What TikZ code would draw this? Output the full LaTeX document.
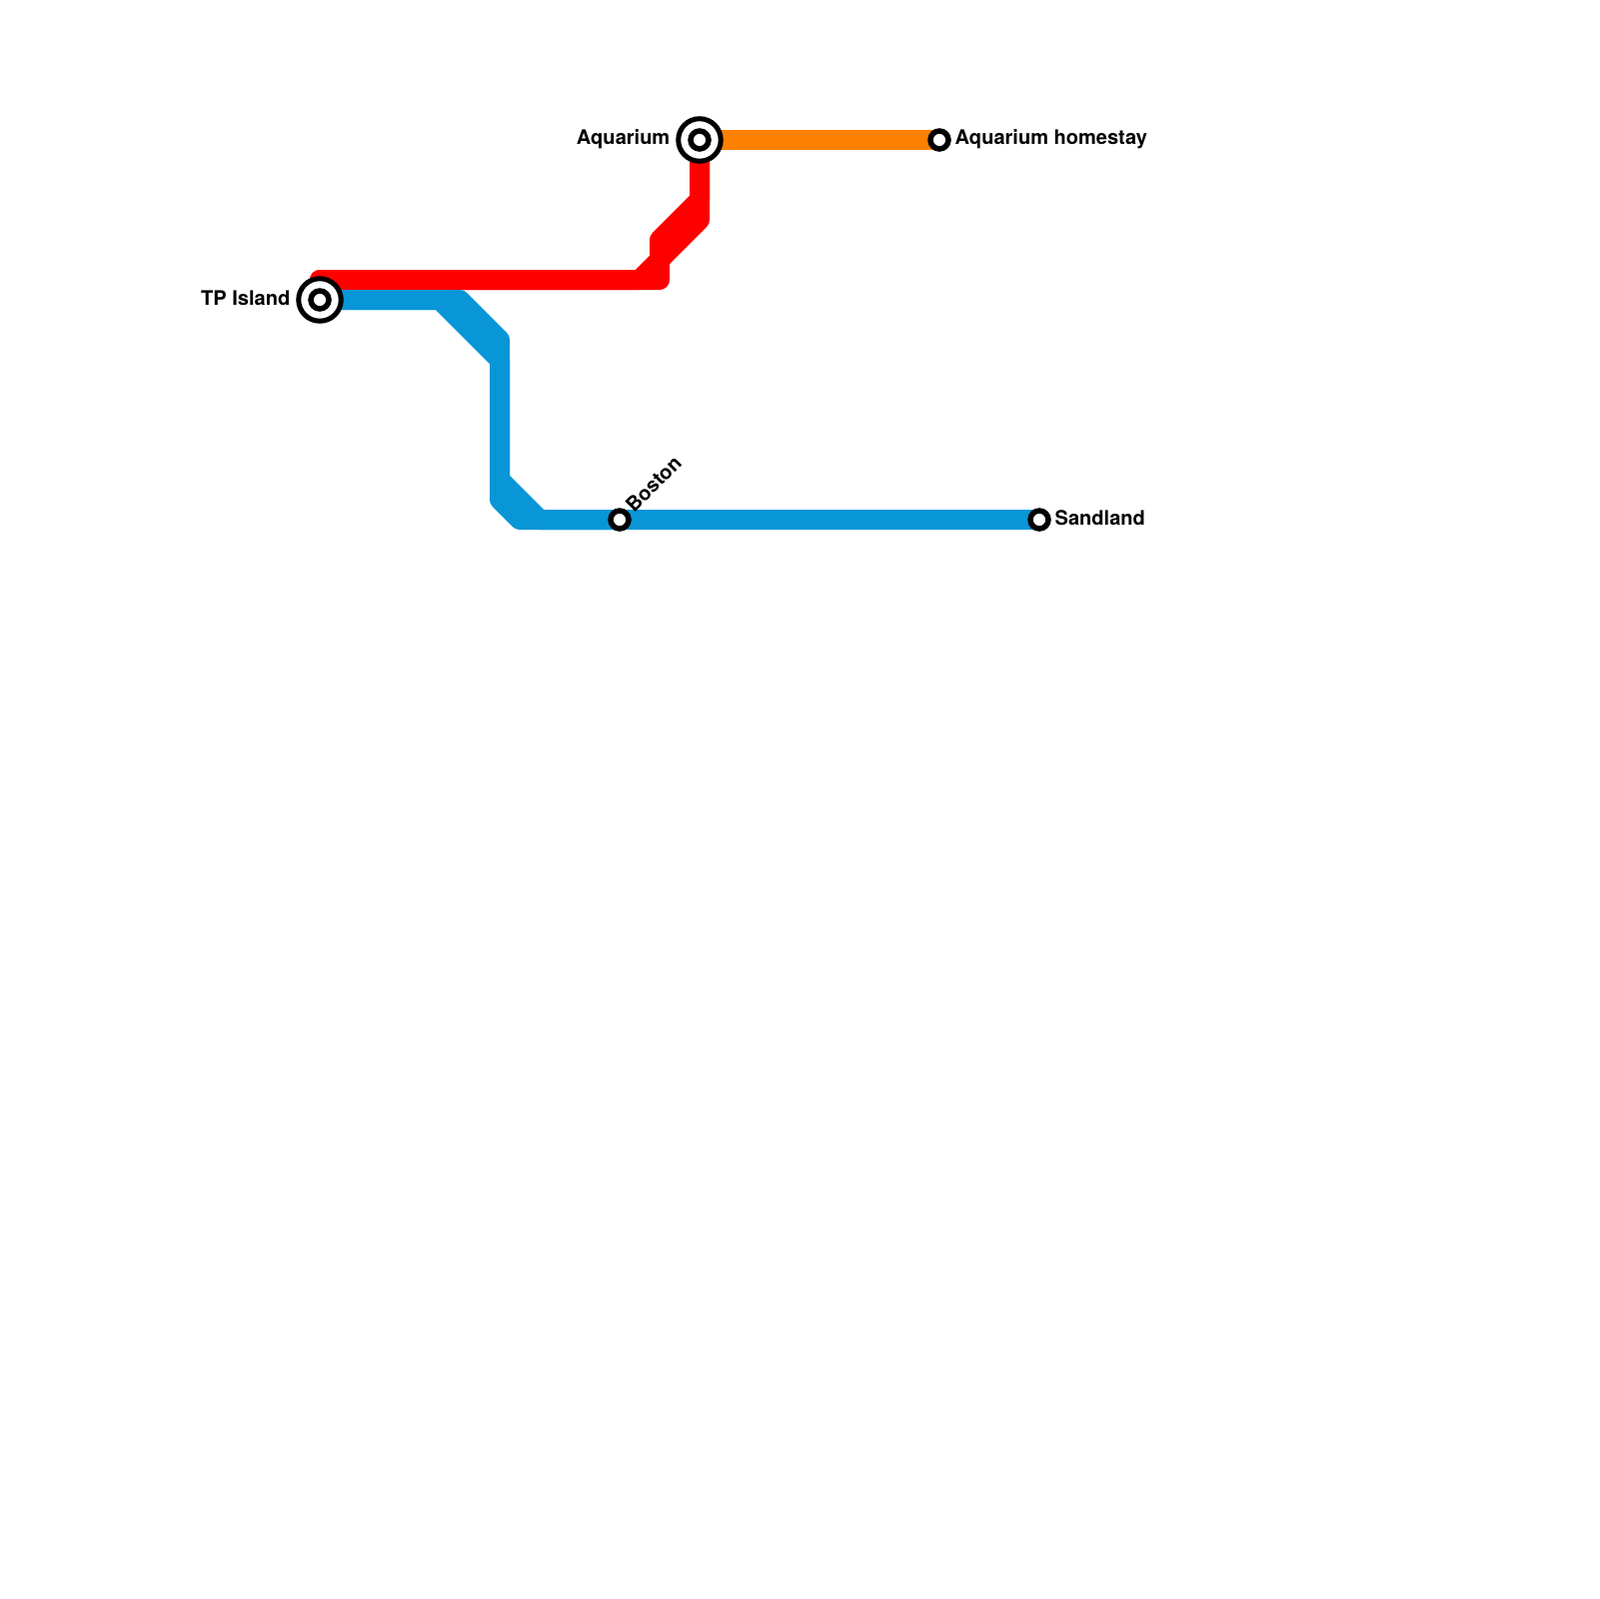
\documentclass[tikz,border=0pt]{standalone}
\usepackage{xcolor}
\usepackage{fontspec}
\setmainfont{TeX Gyre Heros}
\usepackage{tikz}
\usetikzlibrary{positioning}
\definecolor{lineblue}{HTML}{0896D7}
\definecolor{linered}{HTML}{FF0000}
\definecolor{lineorange}{HTML}{FF8000}

\begin{document}
\begin{tikzpicture}[
  x=0.1mm, y=-0.1mm,
  font=\fontsize{5.7pt}{7pt}\selectfont\bfseries,
  route/.style={line width=2mm, line join=round, line cap=round},
  flatroute/.style={line width=2mm, line join=round},
  station/.style={circle, draw=black, fill=white, line width=0.55mm, minimum size=1.8mm, inner sep=0pt},
  hub/.style={circle, draw=black, fill=white, line width=0.5mm, minimum size=4.25mm, inner sep=0pt},
  lbl/.style={inner sep=0pt, text=black}
]
\useasboundingbox[fill=white] (0,0) rectangle (1600,1600);
% bends
\coordinate (b1) at (460,300);
\coordinate (b2) at (500,340);
\coordinate (b3) at (500,500);
\coordinate (b4) at (520,520);
\coordinate (b5) at (440,300);
\coordinate (b6) at (500,360);
\coordinate (b7) at (500,480);
\coordinate (b8) at (540,520);
\coordinate (r1) at (660,280);
\coordinate (r2) at (660,240);
\coordinate (r3) at (700,200);
\coordinate (r4) at (640,280);
\coordinate (r5) at (700,220);
\coordinate (tpc) at (320,300);
\coordinate (aqc) at (700,140);
\coordinate (rs) at (320,280);
\coordinate (bo) at (620,520);
\coordinate (sa) at (1040,520);
\coordinate (ho) at (940,140);
% lines
\draw[flatroute, lineorange] (aqc) -- (ho);
\draw[route, linered] (rs) -- (r1) -- (r2) -- (r3) -- (aqc);
\draw[route, linered] (rs) -- (r4) -- (r5) -- (aqc);
\draw[route, lineblue] (tpc) -- (b1) -- (b2) -- (b3) -- (b4) -- (bo);
\draw[route, lineblue] (tpc) -- (b5) -- (b6) -- (b7) -- (b8) -- (bo);
\draw[flatroute, lineblue] (bo) -- (sa);
% stations
\node[hub] (tpo) at (tpc) {};
\node[station] (tp) at (tpc) {};
\node[hub] (aqo) at (aqc) {};
\node[station] (aq) at (aqc) {};
\node[station] (boston) at (bo) {};
\node[station] (sand) at (sa) {};
\node[station] (home) at (ho) {};
% labels
\node[lbl, anchor=east] (tpl) at (291,298) {TP Island};
\node[lbl, anchor=east] (aql) at (671,139) {Aquarium};
\node[lbl, anchor=west] (homel) at (955,139) {Aquarium homestay};
\node[lbl, anchor=west] (sandl) at (1055,518) {Sandland};
\node[lbl, anchor=west, rotate=45] (bostonl) at (629,509) {Boston};
\end{tikzpicture}
\end{document}
